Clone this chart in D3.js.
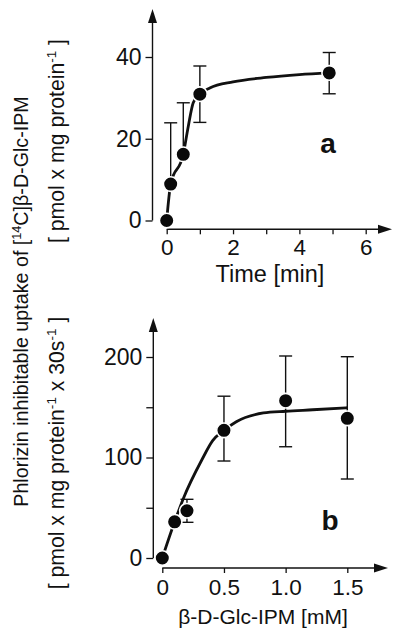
<!DOCTYPE html>
<html>
<head>
<meta charset="utf-8">
<script src="https://cdn.jsdelivr.net/npm/d3@7"></script>
<style>
  html, body { margin: 0; padding: 0; background: #fff; }
  svg { display: block; }
  text { font-family: "Liberation Sans", Arial, Helvetica, sans-serif; fill: #111; }
</style>
</head>
<body>
<svg id="chart" width="400" height="639"></svg>
<script>
// ---------- Panel a: time course ----------
const timeMin      = [0, 0.12, 0.5, 1.0, 4.9];
const uptakeA      = [0, 8.9, 16.2, 30.9, 36.1];
const errHighA     = [null, 23.9, 28.8, 37.8, 41.1];
const errLowA      = [null, null, null, 24.0, 31.0];
const fitTimeA     = [0, 0.12, 0.5, 0.65, 0.8, 1.0, 1.3, 2.0, 3.0, 4.0, 4.9];
const fitValA      = [0, 8.9, 16.2, 23.0, 28.8, 30.9, 32.4, 33.9, 35.0, 35.7, 36.1];
const xTicksA      = [0, 1, 2, 3, 4, 5, 6];
const xTickLabelsA = ["0", "", "2", "", "4", "", "6"];
const yTicksA      = [0, 20, 40];
const yTickLabelsA = ["0", "20", "40"];

// ---------- Panel b: concentration dependence ----------
const concMM       = [0, 0.1, 0.2, 0.5, 1.0, 1.5];
const uptakeB      = [0, 36, 47, 127, 156.5, 139];
const errHighB     = [null, null, 58.4, 161, 201, 200.3];
const errLowB      = [null, null, 35.5, 96.5, 110.7, 78.6];
const fitConcB     = [0, 0.1, 0.17, 0.32, 0.41, 0.5, 0.6, 0.82, 1.0, 1.22, 1.5];
const fitValB      = [0, 36, 59, 97.5, 117, 127, 135.6, 144.3, 146, 147.5, 149.5];
const xTicksB      = [0, 0.5, 1.0, 1.5];
const xTickLabelsB = ["0", "0.5", "1.0", "1.5"];
const yTicksB      = [0, 50, 100, 150, 200];
const yTickLabelsB = ["0", "", "100", "", "200"];

const svg = d3.select("#chart");
const TICK_FONT = 22.5;

function panel(cfg) {
  const g = svg.append("g");
  const x = d3.scaleLinear().domain(cfg.xDomain).range(cfg.xRange);
  const y = d3.scaleLinear().domain(cfg.yDomain).range(cfg.yRange);

  // y axis ticks/labels
  const yAxis = d3.axisLeft(y).tickValues(cfg.yTicks)
    .tickFormat((d, i) => cfg.yTickLabels[i]).tickSize(7).tickSizeOuter(0).tickPadding(4);
  const ya = g.append("g").attr("transform", `translate(${cfg.yAxisX},0)`).call(yAxis);
  ya.select(".domain").remove();
  ya.selectAll("line").attr("stroke", "#111").attr("stroke-width", 1.3);
  ya.selectAll("text").style("font-size", (TICK_FONT + 0.5) + "px").attr("fill", "#111");
  ya.selectAll(".tick").filter((d, i) => cfg.yTickLabels[i] === "").select("text").remove();
  // y axis line with arrow
  g.append("line").attr("x1", cfg.yAxisX).attr("x2", cfg.yAxisX)
    .attr("y1", y(0)).attr("y2", cfg.yArrowTip + 10)
    .attr("stroke", "#111").attr("stroke-width", 1.4);
  g.append("path")
    .attr("d", `M${cfg.yAxisX},${cfg.yArrowTip} L${cfg.yAxisX - 4.5},${cfg.yArrowTip + 14} L${cfg.yAxisX + 4.5},${cfg.yArrowTip + 14} Z`)
    .attr("fill", "#111");

  // x axis ticks/labels
  const xAxis = d3.axisBottom(x).tickValues(cfg.xTicks)
    .tickFormat((d, i) => cfg.xTickLabels[i]).tickSize(5).tickSizeOuter(0).tickPadding(cfg.xPad);
  const xa = g.append("g").attr("transform", `translate(0,${cfg.xAxisY})`).call(xAxis);
  xa.select(".domain").remove();
  xa.selectAll("line").attr("stroke", "#111").attr("stroke-width", 1.3);
  xa.selectAll("text").style("font-size", TICK_FONT + "px").attr("fill", "#111");
  xa.selectAll(".tick").filter((d, i) => cfg.xTickLabels[i] === "").select("text").remove();
  g.append("line").attr("x1", x(0)).attr("x2", cfg.xArrowTip - 10)
    .attr("y1", cfg.xAxisY).attr("y2", cfg.xAxisY)
    .attr("stroke", "#111").attr("stroke-width", 1.4);
  g.append("path")
    .attr("d", `M${cfg.xArrowTip},${cfg.xAxisY} L${cfg.xArrowTip - 14},${cfg.xAxisY - 4.5} L${cfg.xArrowTip - 14},${cfg.xAxisY + 4.5} Z`)
    .attr("fill", "#111");

  // x axis title
  g.append("text").attr("x", cfg.xTitleX).attr("y", cfg.xTitleY)
    .attr("text-anchor", "middle").style("font-size", cfg.xTitleSize + "px").text(cfg.xTitle);

  // fitted curve
  const fit = cfg.fitX.map((v, i) => [v, cfg.fitY[i]]);
  g.append("path").datum(fit)
    .attr("d", d3.line().x(d => x(d[0])).y(d => y(d[1])).curve(d3.curveMonotoneX))
    .attr("fill", "none").attr("stroke", "#111").attr("stroke-width", 2.8);

  // error bars
  const pts = cfg.px.map((v, i) => ({x: v, y: cfg.py[i], hi: cfg.hi[i], lo: cfg.lo[i]}));
  const cap = 6.5;
  pts.forEach(p => {
    if (p.hi == null && p.lo == null) return;
    const top = p.hi != null ? p.hi : p.y;
    const bot = p.lo != null ? p.lo : p.y;
    g.append("line").attr("x1", x(p.x)).attr("x2", x(p.x)).attr("y1", y(top)).attr("y2", y(bot))
      .attr("stroke", "#111").attr("stroke-width", 1.4);
    [p.hi, p.lo].forEach(v => {
      if (v == null) return;
      g.append("line").attr("x1", x(p.x) - cap).attr("x2", x(p.x) + cap)
        .attr("y1", y(v)).attr("y2", y(v)).attr("stroke", "#111").attr("stroke-width", 1.4);
    });
  });

  // markers
  g.selectAll("circle.pt").data(pts).enter().append("circle")
    .attr("cx", d => x(d.x)).attr("cy", d => y(d.y)).attr("r", 7.3)
    .attr("fill", "#0a0a0a").attr("stroke", "#fff").attr("stroke-width", 1.6);

  // panel letter
  g.append("text").attr("x", cfg.letterX).attr("y", cfg.letterY)
    .attr("text-anchor", "middle").style("font-size", "28px").style("font-weight", "bold")
    .text(cfg.letter);
}

panel({
  xDomain: [0, 6], xRange: [166.7, 365.7],
  yDomain: [0, 40], yRange: [220.5, 57],
  yAxisX: 152.5, yArrowTip: 9, xAxisY: 229.3, xArrowTip: 392, xPad: 5,
  xTicks: xTicksA, xTickLabels: xTickLabelsA, yTicks: yTicksA, yTickLabels: yTickLabelsA,
  xTitle: "Time [min]", xTitleX: 270, xTitleY: 282, xTitleSize: 23.5,
  fitX: fitTimeA, fitY: fitValA,
  px: timeMin, py: uptakeA, hi: errHighA, lo: errLowA,
  letter: "a", letterX: 328, letterY: 152.5
});

panel({
  xDomain: [0, 1.5], xRange: [162.3, 347.3],
  yDomain: [0, 200], yRange: [558, 357],
  yAxisX: 153.3, yArrowTip: 318, xAxisY: 568, xArrowTip: 388, xPad: 6,
  xTicks: xTicksB, xTickLabels: xTickLabelsB, yTicks: yTicksB, yTickLabels: yTickLabelsB,
  xTitle: "β-D-Glc-IPM [mM]", xTitleX: 263, xTitleY: 624, xTitleSize: 21,
  fitX: fitConcB, fitY: fitValB,
  px: concMM, py: uptakeB, hi: errHighB, lo: errLowB,
  letter: "b", letterX: 330, letterY: 530
});

// rotated y-axis titles (segments: [text, superscript?])
function rotatedText(cx, cy, size, segs) {
  const t = svg.append("text")
    .attr("transform", `translate(${cx},${cy}) rotate(-90)`)
    .attr("text-anchor", "middle").style("font-size", size + "px");
  let prevSup = false;
  segs.forEach(([s, sup]) => {
    const ts = t.append("tspan").text(s);
    if (sup) ts.attr("dy", -0.38 * size).style("font-size", (0.64 * size) + "px");
    else if (prevSup) ts.attr("dy", 0.38 * size);
    prevSup = sup;
  });
}
rotatedText(28, 301.5, 19.7, [["Phlorizin inhibitable uptake of [", false], ["14", true], ["C]β-D-Glc-IPM", false]]);
rotatedText(64, 141, 21.2, [["[ pmol x mg protein", false], ["-1", true], [" ]", false]]);
rotatedText(64, 453, 21.2, [["[ pmol x mg protein", false], ["-1", true], [" x 30s", false], ["-1", true], [" ]", false]]);
</script>
</body>
</html>
